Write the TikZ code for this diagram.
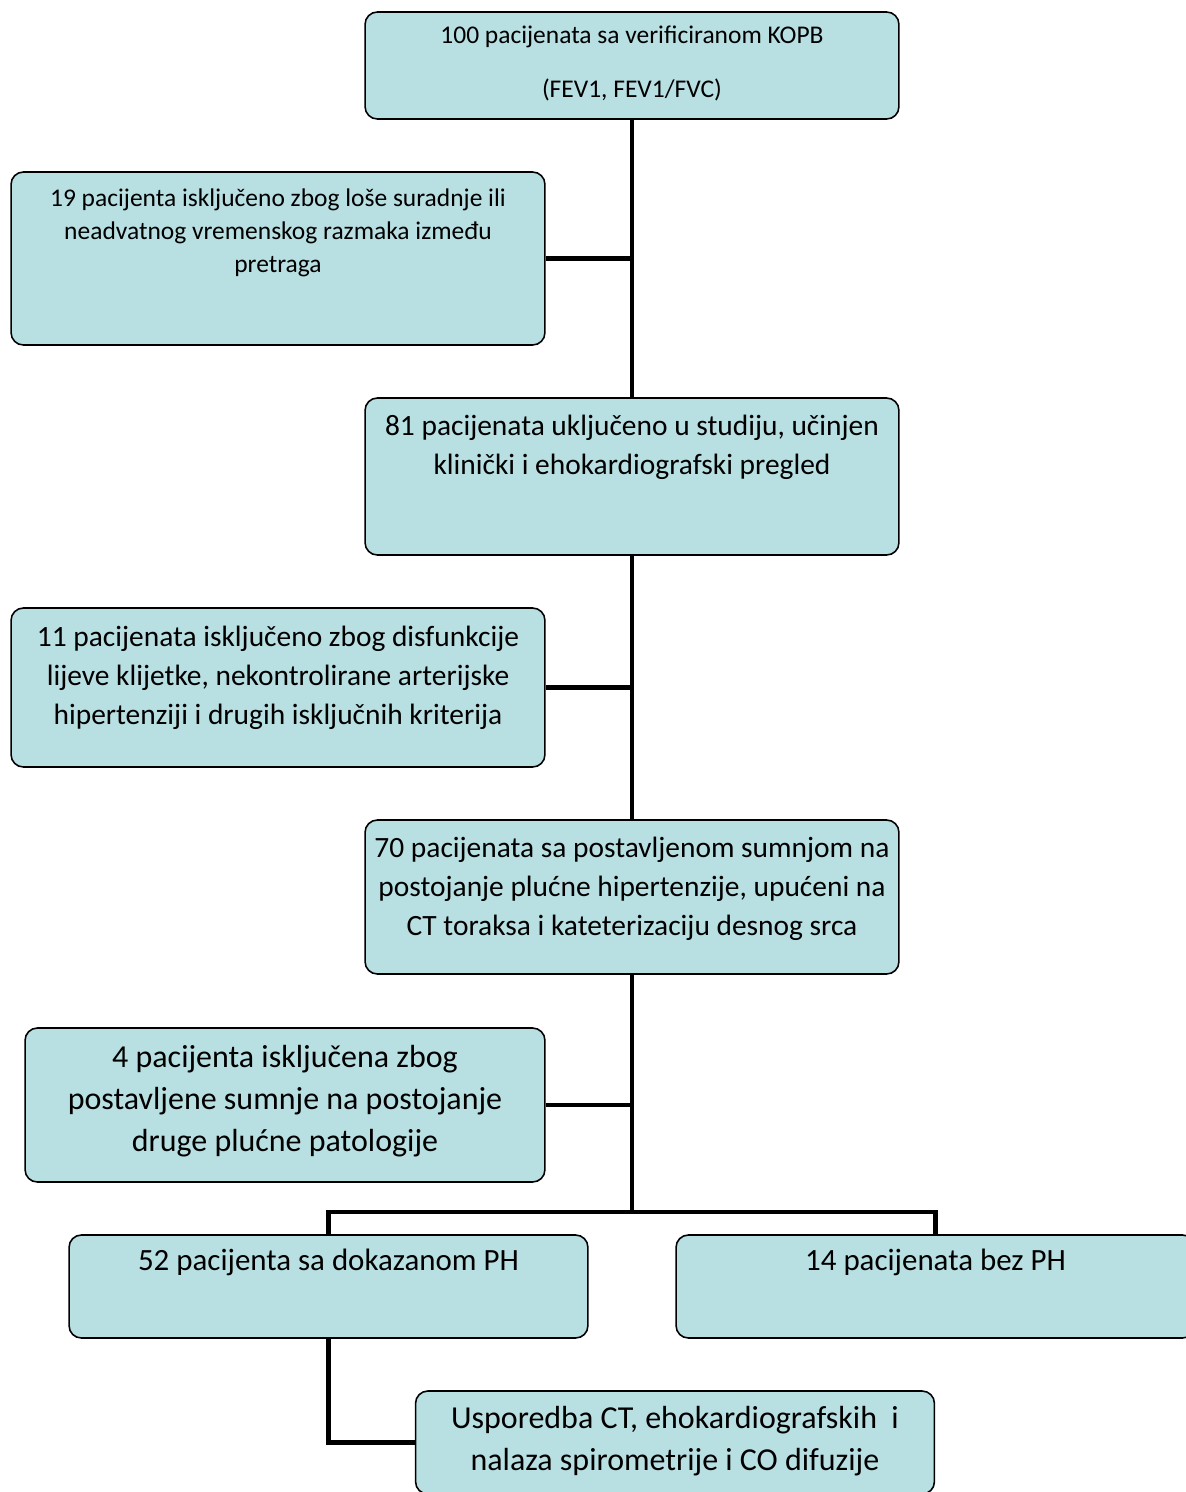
\documentclass[tikz,border=0pt]{standalone}
\usepackage{fontspec}
\setmainfont{Carlito}
\usepackage{tikz}
\usetikzlibrary{positioning,calc}
\definecolor{boxfill}{RGB}{184,223,226}
\newcommand{\fsSmall}{\fontsize{14.5}{18.8}\selectfont}
\newcommand{\fsMid}{\fontsize{16.75}{22.4}\selectfont}
\newcommand{\fsBig}{\fontsize{18.2}{23.9}\selectfont}
\newcommand{\fsPH}{\fontsize{17.6}{23.9}\selectfont}

\begin{document}
\begin{tikzpicture}[x=0.02cm,y=-0.02cm,
  box/.style={draw,rounded corners=7pt,fill=boxfill,line width=0.9pt,inner sep=0pt,minimum width=10.68cm},
  narrow/.style={box,minimum width=10.38cm},
  body/.style={anchor=north,align=center,inner sep=0pt},
  link/.style={line width=2.7pt,line join=miter}]
\useasboundingbox (0,0) rectangle (1186,1492);
% boxes
\node[box,minimum height=2.14cm] (b100) at (632,65.5) {};
\node[box,minimum height=3.46cm] (b19) at (278,258.5) {};
\node[box,minimum height=3.14cm] (b81) at (632,476.5) {};
\node[box,minimum height=3.18cm] (b11) at (278,687.5) {};
\node[box,minimum height=3.08cm] (b70) at (632,897) {};
\node[box,minimum width=10.4cm,minimum height=3.08cm] (b4) at (285,1105) {};
\node[narrow,minimum height=2.06cm] (b52) at (328.5,1286.5) {};
\node[narrow,minimum height=2.06cm] (b14) at (935.5,1286.5) {};
\node[narrow,minimum height=2.06cm] (bcmp) at (675,1442.5) {};
% texts
\node[body,font=\fsSmall] (t100) at ($(b100.north)+(0,14)$) {100 pacijenata sa verificiranom KOPB\\[11.9pt](FEV1, FEV1/FVC)};
\node[body,font=\fsSmall] (t19) at ($(b19.north)+(0,17)$) {19 pacijenta isključeno zbog loše suradnje ili\\neadvatnog vremenskog razmaka između\\pretraga};
\node[body,font=\fsMid] (t81) at ($(b81.north)+(0,17)$) {81 pacijenata uključeno u studiju, učinjen\\klinički i ehokardiografski pregled};
\node[body,font=\fsMid] (t11) at ($(b11.north)+(0,18)$) {11 pacijenata isključeno zbog disfunkcije\\lijeve klijetke, nekontrolirane arterijske\\hipertenziji i drugih isključnih kriterija};
\node[body,font=\fsMid] (t70) at ($(b70.north)+(0,17)$) {70 pacijenata sa postavljenom sumnjom na\\postojanje plućne hipertenzije, upućeni na\\CT toraksa i kateterizaciju desnog srca};
\node[body,font=\fsBig] (t4) at ($(b4.north)+(0,18)$) {4 pacijenta isključena zbog\\postavljene sumnje na postojanje\\druge plućne patologije};
\node[body,font=\fsPH] (t52) at ($(b52.north)+(0,14)$) {52 pacijenta sa dokazanom PH};
\node[body,font=\fsPH] (t14) at ($(b14.north)+(0,14)$) {14 pacijenata bez PH};
\node[body,font=\fsBig] (tcmp) at ($(bcmp.north)+(0,16)$) {Usporedba CT, ehokardiografskih\ \ i\\nalaza spirometrije i CO difuzije};
% connectors
\coordinate (split) at (632,1212);
\draw[link] (b100) -- (b81);
\draw[link] (b19) -- (b19 -| b100);
\draw[link] (b81) -- (b70);
\draw[link] (b11) -- (b11 -| b81);
\draw[link] (b70) -- (split);
\draw[link] (b4) -- (b4 -| split);
\draw[link] (b52.north) |- (split) -| (b14.north);
\draw[link] (b52.south) |- (bcmp.west);
\end{tikzpicture}
\end{document}
